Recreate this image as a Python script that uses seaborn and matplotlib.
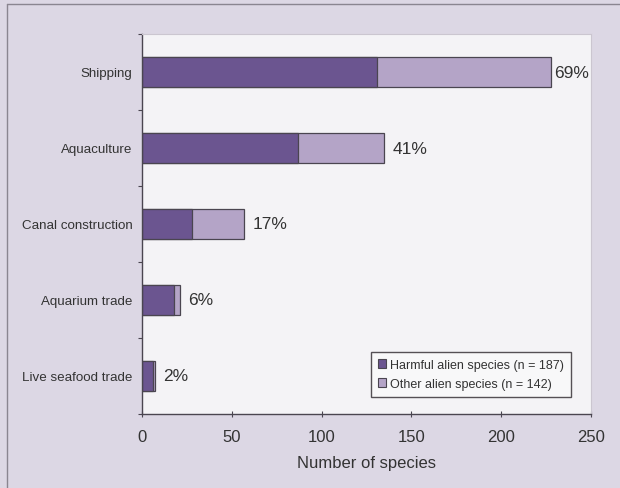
import pandas as pd
import matplotlib
matplotlib.use('Agg')
import matplotlib.pyplot as plt
from matplotlib.patches import Patch
from matplotlib.lines import Line2D
import seaborn as sns

# Data
pathways = ['Shipping', 'Aquaculture', 'Canal construction', 'Aquarium trade', 'Live seafood trade']
harmful = [131, 87, 28, 18, 6]
other = [97, 48, 29, 3, 1]
pct_labels = ['69%', '41%', '17%', '6%', '2%']
x_ticks = [0, 50, 100, 150, 200, 250]

harmful_color = '#6b5590'
other_color = '#b4a4c7'
edge_color = '#4a4550'
text_color = '#333333'

sns.set_theme(style='white')
plt.rcParams['font.family'] = ['Liberation Sans', 'DejaVu Sans']

df = pd.DataFrame({'pathway': pathways, 'harmful': harmful, 'other': other})
df['total'] = df['harmful'] + df['other']

fig = plt.figure(figsize=(6.2, 4.89), dpi=100, facecolor='#dcd7e4')
ax = fig.add_axes([142 / 620, 1 - 415 / 489, 449 / 620, 380 / 489])
ax.set_facecolor('#f4f3f6')

# stacked: totals first (light), harmful over them (dark)
sns.barplot(data=df, x='total', y='pathway', orient='h', color=other_color,
            width=0.4, edgecolor=edge_color, linewidth=0.9, saturation=1, ax=ax)
sns.barplot(data=df, x='harmful', y='pathway', orient='h', color=harmful_color,
            width=0.4, edgecolor=edge_color, linewidth=0.9, saturation=1, ax=ax)

for i, (tot, lab) in enumerate(zip(df['total'], pct_labels)):
    off = 2 if tot > 200 else 6
    ax.annotate(lab, xy=(tot, i), xytext=(off, 0), textcoords='offset points',
                ha='left', va='center', fontsize=12.5, color=text_color)

ax.set_xlim(0, 250)
ax.set_ylim(4.5, -0.5)
ax.set_xticks(x_ticks)
ax.set_xticklabels([str(t) for t in x_ticks], fontsize=12, color=text_color)
ax.set_yticks(range(len(pathways)))
ax.set_yticklabels(pathways, color=text_color, fontsize=9.6)
ax.set_yticks([i - 0.5 for i in range(len(pathways) + 1)], minor=True)
ax.tick_params(axis='y', which='major', left=False, length=0, pad=7)
ax.tick_params(axis='y', which='minor', left=True, length=3, direction='out',
               color=edge_color, width=0.8)
ax.tick_params(axis='x', which='major', bottom=True, length=4, direction='inout',
               color=edge_color, width=0.8, pad=9)
ax.set_xlabel('Number of species', fontsize=12, color=text_color, labelpad=8)
ax.set_ylabel('')

for side in ['left', 'bottom']:
    ax.spines[side].set_color(edge_color)
    ax.spines[side].set_linewidth(1)
for side in ['top', 'right']:
    ax.spines[side].set_color('#cbc6d0')
    ax.spines[side].set_linewidth(0.8)

handles = [Patch(facecolor=harmful_color, edgecolor=edge_color, linewidth=0.8,
                 label='Harmful alien species (n = 187)'),
           Patch(facecolor=other_color, edgecolor=edge_color, linewidth=0.8,
                 label='Other alien species (n = 142)')]
leg = ax.legend(handles=handles, loc='lower right', bbox_to_anchor=(0.955, 0.045),
                borderaxespad=0, fontsize=9, handlelength=0.7, handleheight=0.7,
                handletextpad=0.3, labelspacing=0.6, fancybox=False, framealpha=1,
                facecolor='#f8f8f9', edgecolor='#555055', borderpad=0.55)
leg.get_frame().set_linewidth(1)
for t in leg.get_texts():
    t.set_color(text_color)

# thin frame lines at the top and left of the panel
fig.add_artist(Line2D([7 / 620, 1], [1 - 5 / 489, 1 - 5 / 489], color='#8a8590', lw=1))
fig.add_artist(Line2D([7 / 620, 7 / 620], [0, 1 - 5 / 489], color='#8a8590', lw=1))

fig.savefig('out.png', dpi=100, facecolor=fig.get_facecolor())
